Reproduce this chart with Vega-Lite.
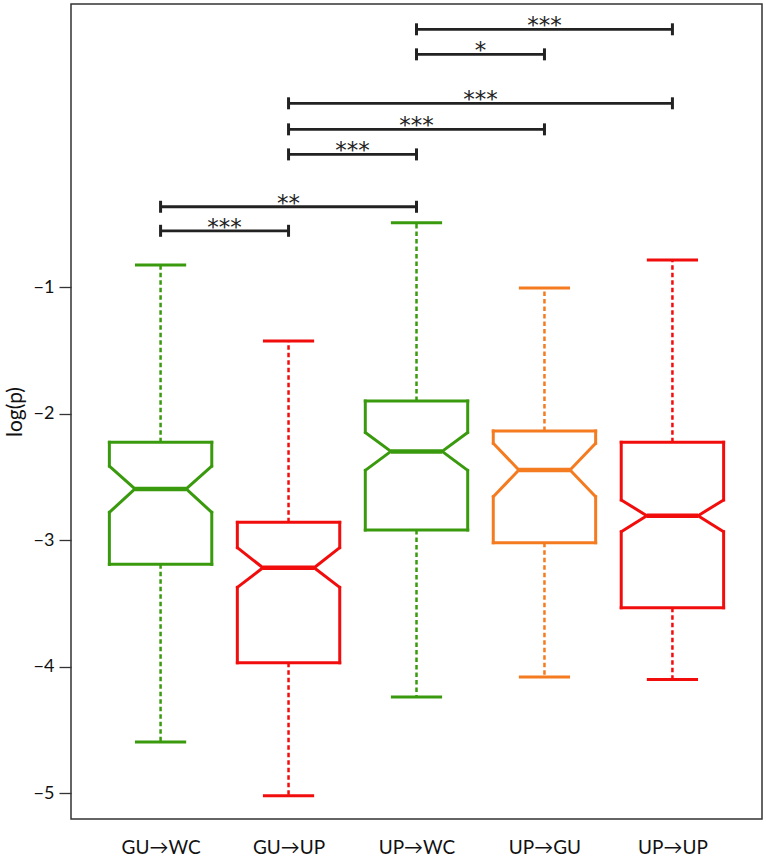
{
  "$schema": "https://vega.github.io/schema/vega-lite/v6.json",
  "width": 691,
  "height": 815,
  "autosize": "none",
  "padding": {"left": 71, "top": 4, "right": 4, "bottom": 39},
  "background": "white",
  "config": {
    "font": "Lato",
    "view": {"stroke": "#333", "strokeWidth": 1.5},
    "axis": {"titleFontWeight": "normal", "titleColor": "#111", "labelColor": "#111"},
    "axisY": {"titlePadding": 8, "labelFontSize": 18, "titleFontSize": 21},
    "axisX": {"labelFontSize": 19, "labelPadding": 19}
  },
  "datasets": {
    "groups": [
      {"g": "GU→WC", "i": 1, "lo": -4.594, "q1": -3.19, "nlo": -2.779, "med": -2.594, "nhi": -2.413, "q3": -2.225, "hi": -0.824},
      {"g": "GU→UP", "i": 2, "lo": -5.02, "q1": -3.968, "nlo": -3.372, "med": -3.217, "nhi": -3.058, "q3": -2.858, "hi": -1.425},
      {"g": "UP→WC", "i": 3, "lo": -4.238, "q1": -2.918, "nlo": -2.447, "med": -2.297, "nhi": -2.147, "q3": -1.899, "hi": -0.489},
      {"g": "UP→GU", "i": 4, "lo": -4.08, "q1": -3.019, "nlo": -2.655, "med": -2.444, "nhi": -2.233, "q3": -2.136, "hi": -1.005},
      {"g": "UP→UP", "i": 5, "lo": -4.1, "q1": -3.533, "nlo": -2.932, "med": -2.805, "nhi": -2.681, "q3": -2.225, "hi": -0.784}
    ],
    "brackets": [
      {"from": 1, "to": 2, "y": -0.553, "label": "***"},
      {"from": 1, "to": 3, "y": -0.363, "label": "**"},
      {"from": 2, "to": 3, "y": 0.051, "label": "***"},
      {"from": 2, "to": 4, "y": 0.249, "label": "***"},
      {"from": 2, "to": 5, "y": 0.455, "label": "***"},
      {"from": 3, "to": 4, "y": 0.842, "label": "*"},
      {"from": 3, "to": 5, "y": 1.04, "label": "***"}
    ]
  },
  "layer": [
    {"data": {"name": "groups"},
      "mark": {"type": "rule", "strokeWidth": 3, "strokeCap": "square", "xOffset": -51.2, "x2Offset": 51.2},
      "encoding": {
        "x": {"field": "i", "type": "quantitative", "scale": {"domain": [0.3, 5.7], "nice": false, "zero": false},
          "axis": {"values": [1, 2, 3, 4, 5], "labelExpr": "['', 'GU→WC', 'GU→UP', 'UP→WC', 'UP→GU', 'UP→UP'][datum.value]", "ticks": false, "domain": false, "grid": false, "title": "", "labelFontSize": 19, "labelPadding": 19}},
        "x2": {"field": "i"},
        "y": {"field": "q3", "type": "quantitative", "scale": {"domain": [-5.203, 1.24], "nice": false, "zero": false},
          "axis": {"values": [-5, -4, -3, -2, -1], "format": "d", "grid": false, "domain": false, "tickSize": 12, "tickColor": "#333", "tickWidth": 1.3, "labelFontSize": 18, "labelPadding": 5, "title": "log(p)", "titleFontSize": 21, "titlePadding": 8}},
        "color": {"field": "g", "type": "nominal", "scale": {"domain": ["GU→WC", "GU→UP", "UP→WC", "UP→GU", "UP→UP"], "range": ["#3a9a0e", "#f20d0d", "#3a9a0e", "#f47b20", "#f20d0d"]}, "legend": null}}},
    {"data": {"name": "groups"},
      "mark": {"type": "rule", "strokeWidth": 3, "strokeCap": "square", "xOffset": -51.2, "x2Offset": 51.2},
      "encoding": {"x": {"field": "i", "type": "quantitative"}, "x2": {"field": "i"},
        "y": {"field": "q1", "type": "quantitative"}, "color": {"field": "g", "type": "nominal", "legend": null}}},
    {"data": {"name": "groups"},
      "mark": {"type": "rule", "strokeWidth": 3, "strokeCap": "square", "xOffset": -51.2},
      "encoding": {"x": {"field": "i", "type": "quantitative"},
        "y": {"field": "q3", "type": "quantitative"}, "y2": {"field": "nhi"}, "color": {"field": "g", "type": "nominal", "legend": null}}},
    {"data": {"name": "groups"},
      "mark": {"type": "rule", "strokeWidth": 3, "strokeCap": "square", "xOffset": 51.2},
      "encoding": {"x": {"field": "i", "type": "quantitative"},
        "y": {"field": "q3", "type": "quantitative"}, "y2": {"field": "nhi"}, "color": {"field": "g", "type": "nominal", "legend": null}}},
    {"data": {"name": "groups"},
      "mark": {"type": "rule", "strokeWidth": 3, "strokeCap": "square", "xOffset": -51.2},
      "encoding": {"x": {"field": "i", "type": "quantitative"},
        "y": {"field": "nlo", "type": "quantitative"}, "y2": {"field": "q1"}, "color": {"field": "g", "type": "nominal", "legend": null}}},
    {"data": {"name": "groups"},
      "mark": {"type": "rule", "strokeWidth": 3, "strokeCap": "square", "xOffset": 51.2},
      "encoding": {"x": {"field": "i", "type": "quantitative"},
        "y": {"field": "nlo", "type": "quantitative"}, "y2": {"field": "q1"}, "color": {"field": "g", "type": "nominal", "legend": null}}},
    {"data": {"name": "groups"},
      "mark": {"type": "rule", "strokeWidth": 3, "strokeCap": "round", "xOffset": -51.2, "x2Offset": -25.6},
      "encoding": {"x": {"field": "i", "type": "quantitative"}, "x2": {"field": "i"},
        "y": {"field": "nhi", "type": "quantitative"}, "y2": {"field": "med"}, "color": {"field": "g", "type": "nominal", "legend": null}}},
    {"data": {"name": "groups"},
      "mark": {"type": "rule", "strokeWidth": 3, "strokeCap": "round", "xOffset": 51.2, "x2Offset": 25.6},
      "encoding": {"x": {"field": "i", "type": "quantitative"}, "x2": {"field": "i"},
        "y": {"field": "nhi", "type": "quantitative"}, "y2": {"field": "med"}, "color": {"field": "g", "type": "nominal", "legend": null}}},
    {"data": {"name": "groups"},
      "mark": {"type": "rule", "strokeWidth": 3, "strokeCap": "round", "xOffset": -25.6, "x2Offset": -51.2},
      "encoding": {"x": {"field": "i", "type": "quantitative"}, "x2": {"field": "i"},
        "y": {"field": "med", "type": "quantitative"}, "y2": {"field": "nlo"}, "color": {"field": "g", "type": "nominal", "legend": null}}},
    {"data": {"name": "groups"},
      "mark": {"type": "rule", "strokeWidth": 3, "strokeCap": "round", "xOffset": 25.6, "x2Offset": 51.2},
      "encoding": {"x": {"field": "i", "type": "quantitative"}, "x2": {"field": "i"},
        "y": {"field": "med", "type": "quantitative"}, "y2": {"field": "nlo"}, "color": {"field": "g", "type": "nominal", "legend": null}}},
    {"data": {"name": "groups"},
      "mark": {"type": "rule", "strokeWidth": 4.5, "strokeCap": "butt", "xOffset": -25.6, "x2Offset": 25.6},
      "encoding": {"x": {"field": "i", "type": "quantitative"}, "x2": {"field": "i"},
        "y": {"field": "med", "type": "quantitative"}, "color": {"field": "g", "type": "nominal", "legend": null}}},
    {"data": {"name": "groups"},
      "mark": {"type": "rule", "strokeWidth": 2.5, "strokeDash": [4.5, 3]},
      "encoding": {"x": {"field": "i", "type": "quantitative"},
        "y": {"field": "q3", "type": "quantitative"}, "y2": {"field": "hi"}, "color": {"field": "g", "type": "nominal", "legend": null}}},
    {"data": {"name": "groups"},
      "mark": {"type": "rule", "strokeWidth": 2.5, "strokeDash": [4.5, 3]},
      "encoding": {"x": {"field": "i", "type": "quantitative"},
        "y": {"field": "q1", "type": "quantitative"}, "y2": {"field": "lo"}, "color": {"field": "g", "type": "nominal", "legend": null}}},
    {"data": {"name": "groups"},
      "mark": {"type": "rule", "strokeWidth": 3, "xOffset": -25.6, "x2Offset": 25.6},
      "encoding": {"x": {"field": "i", "type": "quantitative"}, "x2": {"field": "i"},
        "y": {"field": "hi", "type": "quantitative"}, "color": {"field": "g", "type": "nominal", "legend": null}}},
    {"data": {"name": "groups"},
      "mark": {"type": "rule", "strokeWidth": 3, "xOffset": -25.6, "x2Offset": 25.6},
      "encoding": {"x": {"field": "i", "type": "quantitative"}, "x2": {"field": "i"},
        "y": {"field": "lo", "type": "quantitative"}, "color": {"field": "g", "type": "nominal", "legend": null}}},
    {"data": {"name": "brackets"},
      "mark": {"type": "rule", "strokeWidth": 2.8, "color": "#222"},
      "encoding": {"x": {"field": "from", "type": "quantitative"}, "x2": {"field": "to"},
        "y": {"field": "y", "type": "quantitative"}}},
    {"data": {"name": "brackets"},
      "mark": {"type": "rule", "strokeWidth": 3, "color": "#222", "yOffset": -6, "y2Offset": 6},
      "encoding": {"x": {"field": "from", "type": "quantitative"},
        "y": {"field": "y", "type": "quantitative"}, "y2": {"field": "y"}}},
    {"data": {"name": "brackets"},
      "mark": {"type": "rule", "strokeWidth": 3, "color": "#222", "yOffset": -6, "y2Offset": 6},
      "encoding": {"x": {"field": "to", "type": "quantitative"},
        "y": {"field": "y", "type": "quantitative"}, "y2": {"field": "y"}}},
    {"data": {"name": "brackets"},
      "transform": [
        {"fold": ["from", "to"], "as": ["end", "pos"]},
        {"aggregate": [{"op": "mean", "field": "pos", "as": "mid"}], "groupby": ["y", "label"]}
      ],
      "mark": {"type": "text", "fontSize": 23, "font": "DejaVu Sans", "color": "#222", "baseline": "alphabetic", "dy": 4},
      "encoding": {"x": {"field": "mid", "type": "quantitative"},
        "y": {"field": "y", "type": "quantitative"}, "text": {"field": "label"}}}
  ]
}
